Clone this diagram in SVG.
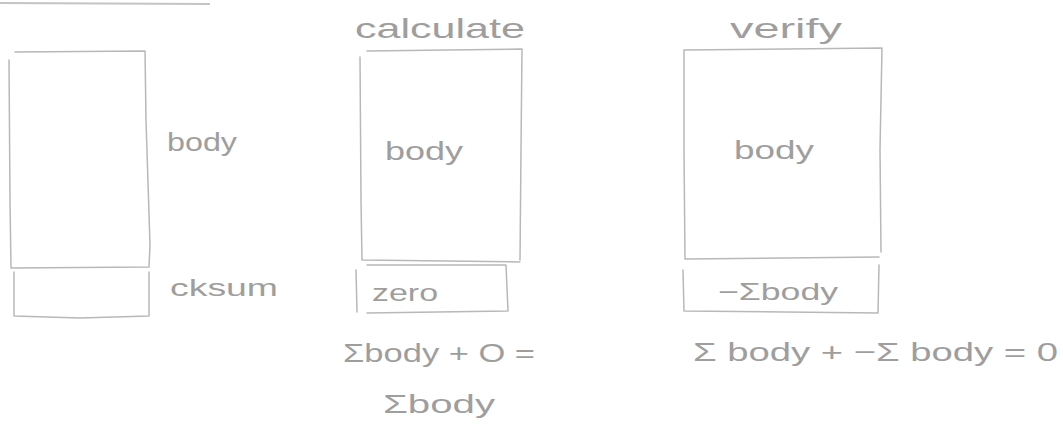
<svg xmlns="http://www.w3.org/2000/svg" width="1063" height="429" viewBox="0 0 1063 429">
<style>
.box{fill:none;stroke:#b8b8b8;stroke-width:1.5;stroke-linejoin:round;stroke-linecap:round}
.t{font-family:"Liberation Sans",Arial,sans-serif;fill:#9e9e9e}
</style>
<rect width="1063" height="429" fill="#ffffff"/>
<path d="M0 3 L210 4" stroke="#c4c4c4" stroke-width="2" fill="none"/>
<g id="layout">
  <g id="plain-body">
    <path class="box" d="M15 52 L145 51 L146 120 L150 245 L149 267 L11 268 L10 200 L9 60"/>
    <text class="t" x="167" y="151" font-size="26" textLength="70" lengthAdjust="spacingAndGlyphs">body</text>
  </g>
  <g id="plain-cksum">
    <path class="box" d="M14 272 L14 316 L80 318 L149 316 L149 272"/>
    <text class="t" x="170" y="296" font-size="24" textLength="108" lengthAdjust="spacingAndGlyphs">cksum</text>
  </g>
  <g id="calc-body">
    <text class="t" x="355" y="38" font-size="28" textLength="170" lengthAdjust="spacingAndGlyphs">calculate</text>
    <path class="box" d="M367 51 L522 49 L521 150 L520 260 M360 57 L361 200 L362 260 L520 262"/>
    <text class="t" x="385" y="160" font-size="26" textLength="78" lengthAdjust="spacingAndGlyphs">body</text>
  </g>
  <g id="calc-cksum">
    <path class="box" d="M367 265 L506 265 L508 311 L367 313 M356 270 L357 312"/>
    <text class="t" x="372" y="301" font-size="24" textLength="66" lengthAdjust="spacingAndGlyphs">zero</text>
  </g>
  <g id="calc-eq">
    <text class="t" x="343" y="362" font-size="26" textLength="192" lengthAdjust="spacingAndGlyphs">Σbody + O =</text>
    <text class="t" x="383" y="413" font-size="26" textLength="112" lengthAdjust="spacingAndGlyphs">Σbody</text>
  </g>
  <g id="verify-body">
    <text class="t" x="730" y="38" font-size="28" textLength="112" lengthAdjust="spacingAndGlyphs">verify</text>
    <path class="box" d="M684 50 L882 48 L880 150 L881 252 M684 50 L684 150 L685 259 L879 257"/>
    <text class="t" x="734" y="159" font-size="26" textLength="80" lengthAdjust="spacingAndGlyphs">body</text>
  </g>
  <g id="verify-cksum">
    <path class="box" d="M683 270 L684 311 L878 313 L879 265"/>
    <text class="t" x="718" y="300" font-size="24" textLength="120" lengthAdjust="spacingAndGlyphs">−Σbody</text>
  </g>
  <g id="verify-eq">
    <text class="t" x="693" y="361" font-size="26" textLength="365" lengthAdjust="spacingAndGlyphs">Σ body + −Σ body = 0</text>
  </g>
</g>
<g id="connectors"></g>
</svg>
